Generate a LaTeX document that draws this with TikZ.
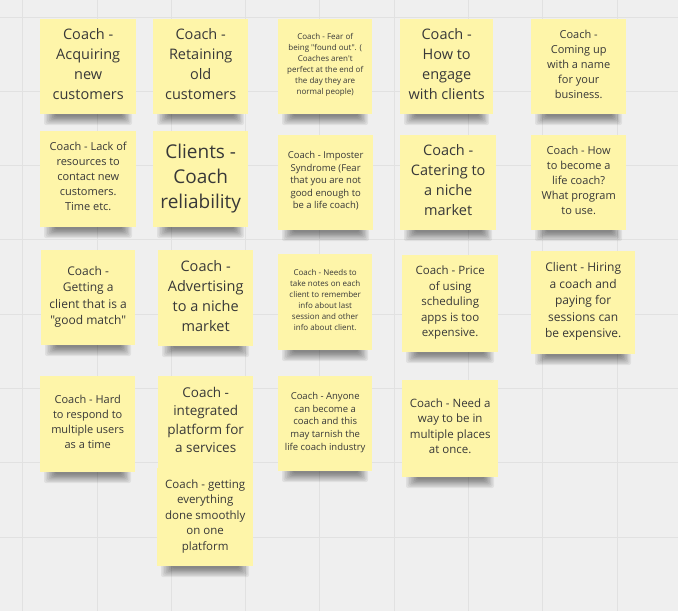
\documentclass[tikz,border=0pt]{standalone}
\usepackage{fontspec}
\setmainfont{Open Sans}[Ligatures=TeXOff]
\definecolor{bgcol}{HTML}{EFEFEF}
\definecolor{gridcol}{HTML}{E1E1E1}
\definecolor{noteyellow}{HTML}{FEF5A9}
\definecolor{notetext}{HTML}{383838}
\newcommand\fsz[2]{\fontsize{#1}{#2}\selectfont}
\newcommand\liftup{\\[\dimexpr 5pt-\baselineskip\relax]}
\newcommand\noteshadow[4]{%
  \foreach \i in {0,...,7}{%
    \fill[black, opacity=0.065, rounded corners=2pt]
      ({#1+4+\i*1.6},{#4-1}) rectangle ({#3-4-\i*1.4},{#4+11-\i*1.25});
  }%
}
\begin{document}
\begin{tikzpicture}[x=1pt, y=-1pt,
  notebox/.style={fill=noteyellow, draw=none, inner sep=0pt, text=notetext,
    align=center, anchor=north west},
  gridline/.style={draw=gridcol, line width=0.9pt}]
\useasboundingbox (0,0) rectangle (678,611);
\fill[bgcol] (0,0) rectangle (678,611);
% grid
\foreach \k in {0,...,8}{
  \draw[gridline] ({22.7+74.3*\k},0) -- ({22.7+74.3*\k},611);
}
\foreach \k in {0,...,7}{
  \draw[gridline] (0,{17+74.3*\k}) -- (678,{17+74.3*\k});
}
% shadows
\noteshadow{40}{19}{136}{114}
\noteshadow{153}{19}{248}{114}
\noteshadow{278}{19}{372}{114}
\noteshadow{400}{19}{493}{114}
\noteshadow{531}{19}{626}{114}
\noteshadow{40}{131}{136}{227}
\noteshadow{153}{131}{248}{227}
\noteshadow{278}{135}{373}{230}
\noteshadow{400}{135}{496}{230}
\noteshadow{531}{135}{626}{230}
\noteshadow{41}{250}{135}{345}
\noteshadow{158}{250}{253}{346}
\noteshadow{278}{254}{372}{350}
\noteshadow{402}{255}{498}{352}
\noteshadow{531}{251}{635}{354}
\noteshadow{40}{376}{135}{472}
\noteshadow{278}{376}{372}{471}
\noteshadow{402}{380}{498}{477}
\noteshadow{157}{468}{253}{566}
% row 1
\node[notebox, minimum width=96pt, minimum height=95pt, font=\fsz{14.5}{20}] (n1) at (40,19)
  {Coach -\\Acquiring\\new\\customers\liftup};
\node[notebox, minimum width=95pt, minimum height=95pt, font=\fsz{14.5}{20}] (n2) at (153,19)
  {Coach -\\Retaining\\old\\customers\liftup};
\node[notebox, minimum width=94pt, minimum height=95pt, font=\fsz{8}{11}] (n3) at (278,19)
  {Coach - Fear of\\being "found out". (\\Coaches aren't\\perfect at the end of\\the day they are\\normal people)\liftup};
\node[notebox, minimum width=93pt, minimum height=95pt, font=\fsz{14.5}{20}] (n4) at (400,19)
  {Coach -\\How to\\engage\\with clients\liftup};
\node[notebox, minimum width=95pt, minimum height=95pt, font=\fsz{11}{15}] (n5) at (531,19)
  {Coach -\\Coming up\\with a name\\for your\\business.\liftup};
% row 2
\node[notebox, minimum width=96pt, minimum height=96pt, font=\fsz{11}{15}] (n6) at (40,131)
  {Coach - Lack of\\resources to\\contact new\\customers.\\Time etc.\liftup};
\node[notebox, minimum width=95pt, minimum height=96pt, font=\fsz{19}{25}] (n7) at (153,131)
  {Clients -\\Coach\\reliability\liftup};
\node[notebox, minimum width=95pt, minimum height=95pt, font=\fsz{9.5}{12.5}] (n8) at (278,135)
  {Coach - Imposter\\Syndrome (Fear\\that you are not\\good enough to\\be a life coach)\liftup};
\node[notebox, minimum width=96pt, minimum height=95pt, font=\fsz{14.5}{20}] (n9) at (400,135)
  {Coach -\\Catering to\\a niche\\market\liftup};
\node[notebox, minimum width=95pt, minimum height=95pt, font=\fsz{11}{15}] (n10) at (531,135)
  {Coach - How\\to become a\\life coach?\\What program\\to use.\liftup};
% row 3
\node[notebox, minimum width=94pt, minimum height=95pt, font=\fsz{12}{16.5}] (n11) at (41,250)
  {Coach -\\Getting a\\client that is a\\"good match"\liftup};
\node[notebox, minimum width=95pt, minimum height=96pt, font=\fsz{14.5}{20}] (n12) at (158,250)
  {Coach -\\Advertising\\to a niche\\market\liftup};
\node[notebox, minimum width=94pt, minimum height=96pt, font=\fsz{8}{11}] (n13) at (278,254)
  {Coach - Needs to\\take notes on each\\client to remember\\info about last\\session and other\\info about client.\liftup};
\node[notebox, minimum width=96pt, minimum height=97pt, font=\fsz{11.5}{15.5}] (n14) at (402,255)
  {Coach - Price\\of using\\scheduling\\apps is too\\expensive.\liftup};
\node[notebox, minimum width=104pt, minimum height=103pt, font=\fsz{12}{16.5}] (n15) at (531,251)
  {Client - Hiring\\a coach and\\paying for\\sessions can\\be expensive.\liftup};
% row 4
\node[notebox, minimum width=95pt, minimum height=96pt, font=\fsz{11}{15}] (n16) at (40,376)
  {Coach - Hard\\to respond to\\multiple users\\as a time\liftup};
\node[notebox, minimum width=95pt, minimum height=92pt, font=\fsz{13.5}{18.5}] (n17) at (158,376)
  {Coach -\\integrated\\platform for\\a services\liftup};
\node[notebox, minimum width=96pt, minimum height=98pt, font=\fsz{11.5}{15.5}] (n18) at (157,468)
  {Coach - getting\\everything\\done smoothly\\on one\\platform\liftup};
\node[notebox, minimum width=94pt, minimum height=95pt, font=\fsz{9.5}{12.7}] (n19) at (278,376)
  {Coach - Anyone\\can become a\\coach and this\\may tarnish the\\life coach industry\liftup};
\node[notebox, minimum width=96pt, minimum height=97pt, font=\fsz{11.5}{15.5}] (n20) at (402,380)
  {Coach - Need a\\way to be in\\multiple places\\at once.\liftup};
\end{tikzpicture}
\end{document}
